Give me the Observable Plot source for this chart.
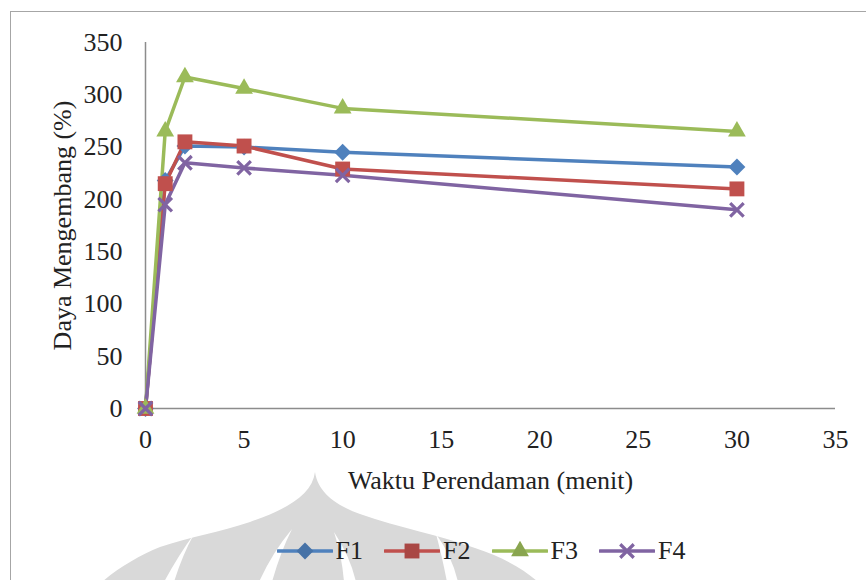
<!DOCTYPE html>
<html>
<head>
<meta charset="utf-8">
<script src="https://cdn.jsdelivr.net/npm/d3@7"></script>
<script src="https://cdn.jsdelivr.net/npm/@observablehq/plot@0.6"></script>
<style>
  html, body { margin: 0; padding: 0; background: #fff; }
  #wrap { position: relative; width: 866px; height: 580px; overflow: hidden; font-family: "Liberation Serif", "DejaVu Serif", serif; }
  #frame { position: absolute; left: 10px; top: 11px; right: -2px; bottom: -2px; border-left: 1.5px solid #a6a6a6; border-top: 1.5px solid #a6a6a6; }
  #mark { position: absolute; left: 0; top: 0; }
  #chart { position: absolute; left: 0; top: 0; }
  #legend { position: absolute; top: 537px; left: 0; width: 962px; display: flex; justify-content: center; gap: 21px; font-size: 26px; color: #222; line-height: 28px; }
  #legend .item { display: flex; align-items: center; gap: 3px; }
</style>
</head>
<body>
<div id="wrap">
  <svg id="mark" width="866" height="580">
    <path fill="#d9d9d9" d="M315,472 C318,492 335,505 360,514 C400,528 440,535 475,548 C505,558 525,570 538,582 L102,582 C118,568 140,555 160,547 C190,537 220,532 250,522 C290,508 312,494 315,472 Z"/>
    <g fill="#fff">
      <path d="M194,534 Q178,556 164,582 L174,582 Q182,556 194,534 Z"/>
      <path d="M292,529 Q272,553 259,582 L272,582 Q280,553 292,529 Z"/>
      <path d="M334,532 Q342,556 344,582 L356,582 Q350,556 334,532 Z"/>
      <path d="M436,534 Q442,556 447,582 L458,582 Q452,556 436,534 Z"/>
    </g>
  </svg>
  <div id="frame"></div>
  <div id="chart"></div>
  <div id="legend"></div>
</div>
<script>
// Soaking time (minutes) and swelling capacity (%) for each formula
const waktu = [0, 1, 2, 5, 10, 30];
const F1 = [0, 218, 251, 250, 245, 231];
const F2 = [0, 215, 255, 251, 229, 210];
const F3 = [0, 265, 317, 306, 287, 265];
const F4 = [0, 195, 235, 230, 223, 190];

const seriesNames = ["F1", "F2", "F3", "F4"];
const seriesValues = [F1, F2, F3, F4];
const colors = ["#4f81bd", "#c0504d", "#9bbb59", "#8064a2"];
const symbols = ["diamond2", "square", "triangle", "times"];
const symbolR = [7.6, 8.4, 6.6, 6.2];

const xTicks = [0, 5, 10, 15, 20, 25, 30, 35];
const yTicks = [0, 50, 100, 150, 200, 250, 300, 350];

const FONT = "'Liberation Serif', 'DejaVu Serif', serif";
const FS = 26;

const rows = seriesNames.flatMap((s, i) =>
  waktu.map((t, j) => ({ seri: s, waktu: t, nilai: seriesValues[i][j] }))
);

const lineMarks = seriesNames.map((s, i) =>
  Plot.line(rows.filter(d => d.seri === s), {
    x: "waktu", y: "nilai", stroke: colors[i], strokeWidth: 3.5, strokeLinejoin: "round"
  })
);
const dotMarks = seriesNames.map((s, i) =>
  symbols[i] === "times"
    ? Plot.dot(rows.filter(d => d.seri === s), {
        x: "waktu", y: "nilai", symbol: symbols[i], r: symbolR[i], stroke: colors[i], strokeWidth: 3.2
      })
    : Plot.dot(rows.filter(d => d.seri === s), {
        x: "waktu", y: "nilai", symbol: symbols[i], r: symbolR[i], fill: colors[i], stroke: "none"
      })
);

const chart = Plot.plot({
  width: 866,
  height: 580,
  marginLeft: 145,
  marginRight: 31,
  marginTop: 42,
  marginBottom: 172,
  style: { fontFamily: FONT, fontSize: FS + "px", color: "#222", background: "transparent", overflow: "visible" },
  x: { domain: [0, 35], label: null },
  y: { domain: [0, 350], label: null },
  marks: [
    Plot.axisX({ ticks: xTicks, tickSize: 0, tickPadding: 21, fontSize: FS, label: null }),
    Plot.axisY({ ticks: yTicks, tickSize: 0, tickPadding: 23, fontSize: FS, label: null }),
    Plot.ruleY([0], { stroke: "#8c8c8c", strokeWidth: 1.5 }),
    Plot.ruleX([0], { stroke: "#8c8c8c", strokeWidth: 1.5 }),
    Plot.text(["Daya Mengembang (%)"], {
      frameAnchor: "left", dx: -83, rotate: -90, textAnchor: "middle", lineAnchor: "middle",
      fontSize: FS, fill: "#222", fontFamily: FONT
    }),
    Plot.text(["Waktu Perendaman (menit)"], {
      frameAnchor: "bottom", dy: 72, textAnchor: "middle", lineAnchor: "middle",
      fontSize: FS, fill: "#222", fontFamily: FONT
    }),
    ...lineMarks,
    ...dotMarks
  ]
});
document.getElementById("chart").appendChild(chart);

// Legend: line swatch with the series marker in the middle
const legend = d3.select("#legend");
seriesNames.forEach((s, i) => {
  const item = legend.append("div").attr("class", "item");
  const svg = item.append("svg").attr("width", 56).attr("height", 20);
  svg.append("line").attr("x1", 1).attr("x2", 55).attr("y1", 10).attr("y2", 10)
    .attr("stroke", colors[i]).attr("stroke-width", 3.5).attr("stroke-linecap", "round");
  const sym = { diamond2: d3.symbolDiamond2, square: d3.symbolSquare, triangle: d3.symbolTriangle, times: d3.symbolTimes }[symbols[i]];
  const path = d3.symbol(sym, symbolR[i] * symbolR[i] * Math.PI)();
  const p = svg.append("path").attr("d", path).attr("transform", "translate(28,10)");
  if (symbols[i] === "times") p.attr("fill", "none").attr("stroke", colors[i]).attr("stroke-width", 3.2);
  else p.attr("fill", d3.color(colors[i]).darker(0.35)).attr("stroke", "none");
  item.append("span").text(s);
});
</script>
</body>
</html>
